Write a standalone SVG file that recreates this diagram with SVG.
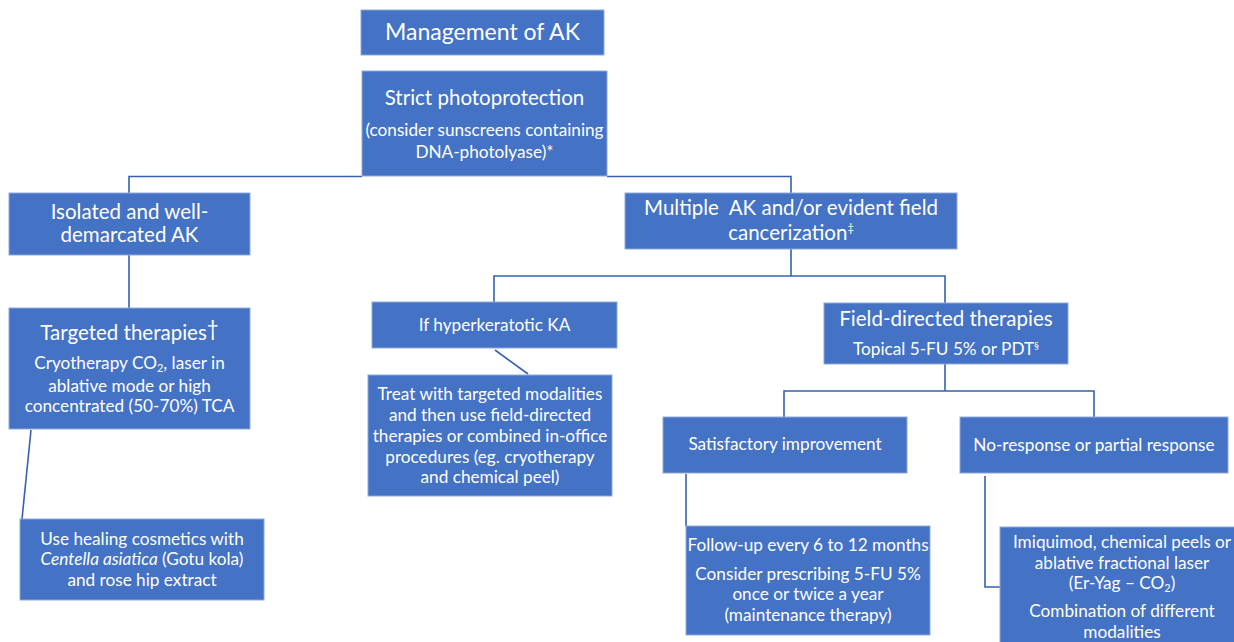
<svg xmlns="http://www.w3.org/2000/svg" width="1234" height="642" viewBox="0 0 1234 642">
<style>
.box{fill:#4472C4;stroke:#8EA9DB;stroke-width:1}
.c{fill:none;stroke:#3561AE;stroke-width:1.6}
text{font-family:Lato,"Liberation Sans",sans-serif;fill:#fff;text-anchor:middle}
.t{font-size:20.5px}
.s{font-size:17.2px}
.h{font-size:23px}
.sub{font-size:11px}
</style>
<rect width="1234" height="642" fill="#fff"/>
<g id="connectors">
<path class="c" d="M362,176.5 H129 V193"/>
<path class="c" d="M607,176.5 H791 V193"/>
<path class="c" d="M129,255 V308"/>
<path class="c" d="M791,249 V276"/>
<path class="c" d="M494,302 V276 H945 V303"/>
<path class="c" d="M495,350 L528,374"/>
<path class="c" d="M31,430 L22,519"/>
<path class="c" d="M945,364 V391"/>
<path class="c" d="M784,417 V391 H1094 V417"/>
<path class="c" d="M686,474 V526"/>
<path class="c" d="M985,476 V587 H1000"/>
</g>
<g id="n-management">
<rect class="box" x="361" y="10" width="243" height="45"/>
<text class="h" x="482.5" y="40">Management of AK</text>
</g>
<g id="n-photoprotection">
<rect class="box" x="362" y="71" width="245" height="105"/>
<text class="t" x="484.5" y="105">Strict photoprotection</text>
<text class="s" x="484.5" y="136">(consider sunscreens containing</text>
<text class="s" x="484.5" y="158">DNA-photolyase)*</text>
</g>
<g id="n-isolated">
<rect class="box" x="9" y="193" width="241" height="62"/>
<text class="t" x="129.5" y="219">Isolated and well-</text>
<text class="t" x="129.5" y="242">demarcated AK</text>
</g>
<g id="n-multiple">
<rect class="box" x="625" y="193" width="332" height="56"/>
<text class="t" x="791" y="215" xml:space="preserve">Multiple  AK and/or evident field</text>
<text class="t" x="791" y="240">cancerization<tspan font-size="11" dy="-8">‡</tspan></text>
</g>
<g id="n-targeted">
<rect class="box" x="9" y="308" width="241" height="121"/>
<text class="t" x="129.5" y="340">Targeted therapies<tspan dy="-4">†</tspan></text>
<text class="s" x="129.5" y="369">Cryotherapy CO<tspan class="sub" dy="3">2</tspan><tspan dy="-3">, laser in</tspan></text>
<text class="s" x="129.5" y="392">ablative mode or high</text>
<text class="s" x="129.5" y="412">concentrated (50-70%) TCA</text>
</g>
<g id="n-hyperkeratotic">
<rect class="box" x="372" y="302" width="245" height="46"/>
<text class="s" x="494.5" y="331">If hyperkeratotic KA</text>
</g>
<g id="n-field">
<rect class="box" x="824" y="303" width="244" height="61"/>
<text class="t" x="946" y="326">Field-directed therapies</text>
<text class="s" x="946" y="355">Topical 5-FU 5% or PDT<tspan font-size="10" dy="-6">§</tspan></text>
</g>
<g id="n-treat">
<rect class="box" x="368" y="375" width="244" height="121"/>
<text class="s" x="490" y="400">Treat with targeted modalities</text>
<text class="s" x="490" y="421">and then use field-directed</text>
<text class="s" x="490" y="442">therapies or combined in-office</text>
<text class="s" x="490" y="463">procedures (eg. cryotherapy</text>
<text class="s" x="490" y="483">and chemical peel)</text>
</g>
<g id="n-healing">
<rect class="box" x="20" y="519" width="244" height="81"/>
<text class="s" x="142" y="545">Use healing cosmetics with</text>
<text class="s" x="142" y="565"><tspan font-style="italic">Centella asiatica</tspan> (Gotu kola)</text>
<text class="s" x="142" y="586">and rose hip extract</text>
</g>
<g id="n-satisfactory">
<rect class="box" x="663" y="417" width="244" height="56"/>
<text class="s" x="785" y="450">Satisfactory improvement</text>
</g>
<g id="n-noresponse">
<rect class="box" x="960" y="417" width="268" height="56"/>
<text class="s" x="1094" y="451">No-response or partial response</text>
</g>
<g id="n-followup">
<rect class="box" x="686" y="526" width="244" height="109"/>
<text class="s" x="808" y="551">Follow-up every 6 to 12 months</text>
<text class="s" x="808" y="580">Consider prescribing 5-FU 5%</text>
<text class="s" x="808" y="600">once or twice a year</text>
<text class="s" x="808" y="621">(maintenance therapy)</text>
</g>
<g id="n-imiquimod">
<rect class="box" x="1000" y="527" width="244" height="125"/>
<text class="s" x="1122" y="548">Imiquimod, chemical peels or</text>
<text class="s" x="1122" y="569">ablative fractional laser</text>
<text class="s" x="1122" y="589">(Er-Yag – CO<tspan class="sub" dy="3">2</tspan><tspan dy="-3">)</tspan></text>
<text class="s" x="1122" y="617">Combination of different</text>
<text class="s" x="1122" y="638">modalities</text>
</g>
</svg>
